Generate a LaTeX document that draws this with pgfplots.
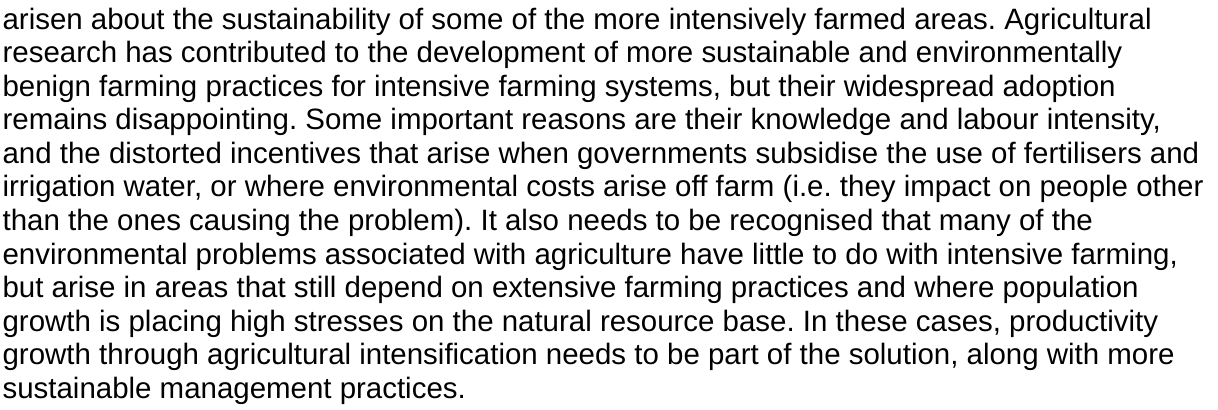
\documentclass[border=0pt]{standalone}
\usepackage{pgfplots}
\pgfplotsset{compat=1.18}
\usepackage{fontspec}
\setmainfont{Liberation Sans}
\frenchspacing
\begin{document}
\begin{tikzpicture}
\useasboundingbox (0,0) rectangle (402pt,135pt);
\begin{axis}[
  at={(0,0)}, anchor=origin,
  scale only axis, width=402pt, height=135pt,
  xmin=0, xmax=1218, ymin=0, ymax=409,
  hide axis, clip=false]
\addplot[draw=none, forget plot] coordinates {(0,0) (1218,409)};
\node[anchor=base west, align=left, inner sep=0pt,
  font=\fontsize{9.72}{11.06}\selectfont] at (axis cs:2,11) {%
arisen about the sustainability of some of the more intensively farmed areas. Agricultural\\
research has contributed to the development of more sustainable and environmentally\\
benign farming practices for intensive farming systems, but their widespread adoption\\
remains disappointing. Some important reasons are their knowledge and labour intensity,\\
and the distorted incentives that arise when governments subsidise the use of fertilisers and\\
irrigation water, or where environmental costs arise off farm (i.e. they impact on people other\\
than the ones causing the problem). It also needs to be recognised that many of the\\
environmental problems associated with agriculture have little to do with intensive farming,\\
but arise in areas that still depend on extensive farming practices and where population\\
growth is placing high stresses on the natural resource base. In these cases, productivity\\
growth through agricultural intensification needs to be part of the solution, along with more\\
sustainable management practices.};
\end{axis}
\end{tikzpicture}
\end{document}
